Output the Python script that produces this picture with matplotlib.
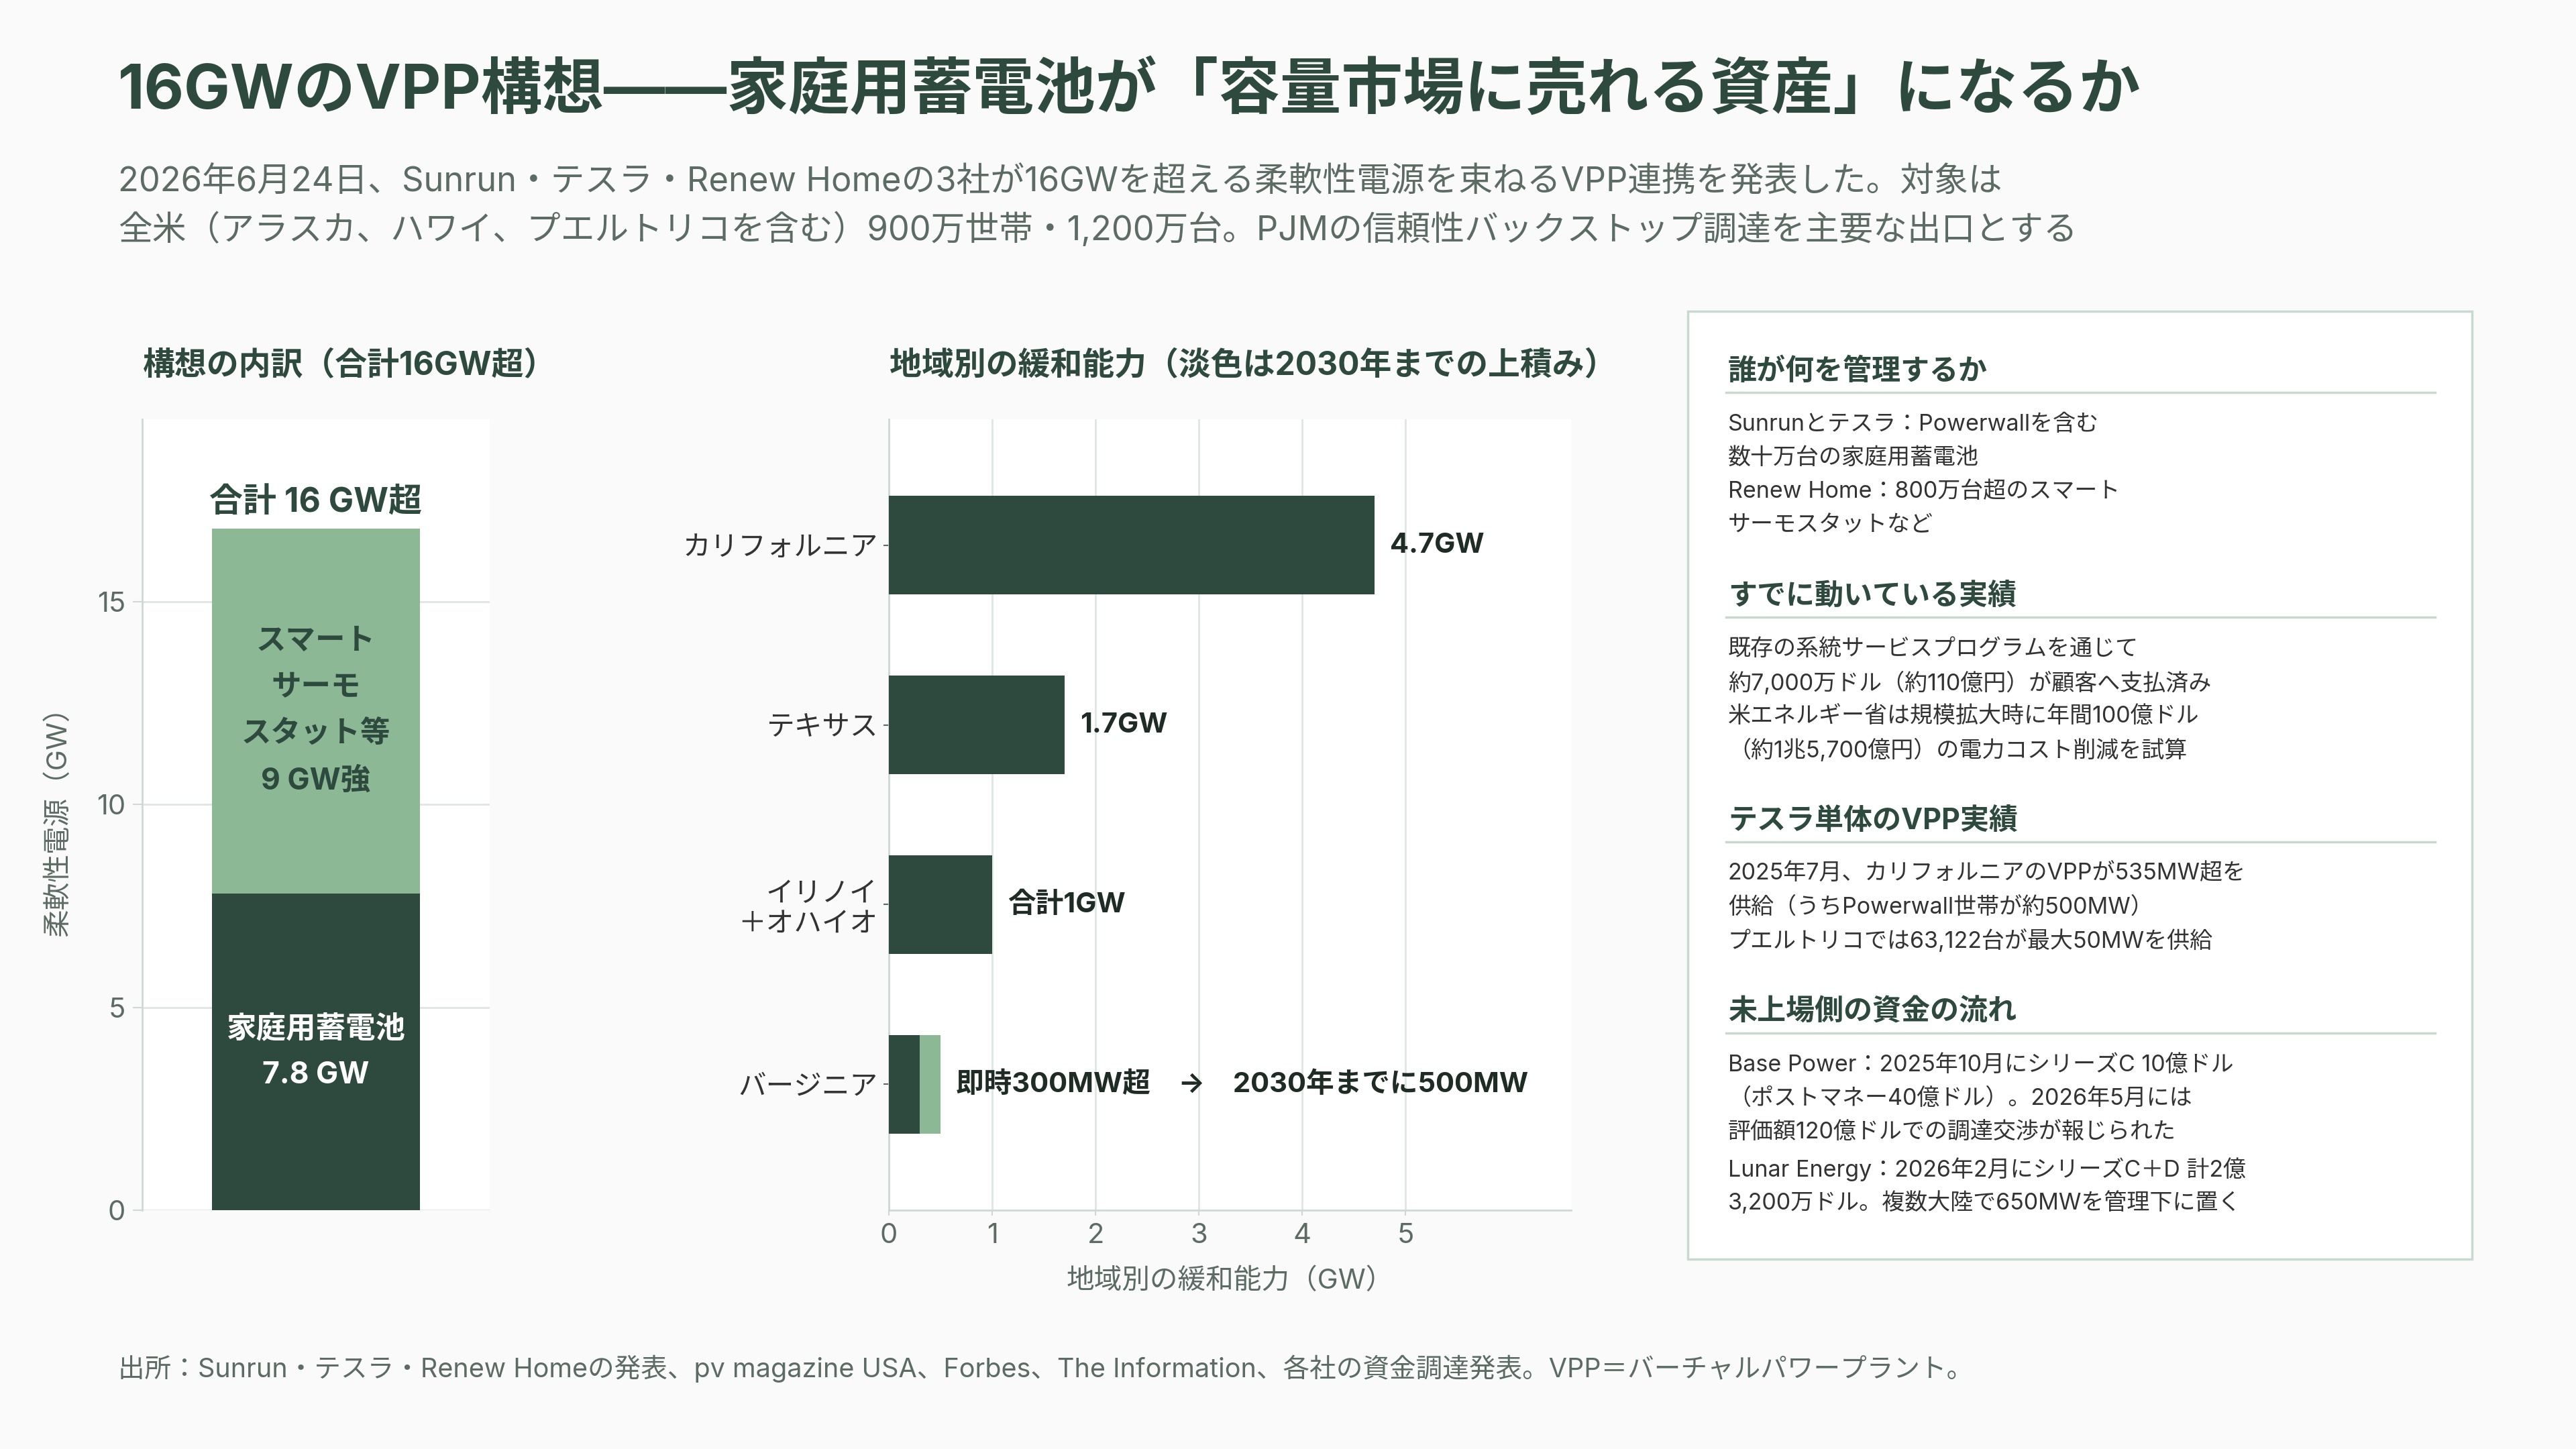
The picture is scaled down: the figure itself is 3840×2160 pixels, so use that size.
import matplotlib
matplotlib.use('Agg')
import matplotlib.pyplot as plt
from matplotlib.patches import Rectangle
from matplotlib.lines import Line2D

plt.rcParams['font.family'] = ['Inter', 'Noto Sans CJK JP', 'DejaVu Sans']

# ---------------- data ----------------
title = '16GWのVPP構想——家庭用蓄電池が「容量市場に売れる資産」になるか'
subtitle_lines = [
    '2026年6月24日、Sunrun・テスラ・Renew Homeの3社が16GWを超える柔軟性電源を束ねるVPP連携を発表した。対象は',
    '全米（アラスカ、ハワイ、プエルトリコを含む）900万世帯・1,200万台。PJMの信頼性バックストップ調達を主要な出口とする',
]
footer = '出所：Sunrun・テスラ・Renew Homeの発表、pv magazine USA、Forbes、The Information、各社の資金調達発表。VPP＝バーチャルパワープラント。'

left_title = '構想の内訳（合計16GW超）'
breakdown_labels = ['家庭用蓄電池\n7.8 GW', 'スマート\nサーモ\nスタット等\n9 GW強']
breakdown_values = [7.8, 9.0]
total_label = '合計 16 GW超'
left_ylabel = '柔軟性電源（GW）'
left_yticks = [0, 5, 10, 15]

mid_title = '地域別の緩和能力（淡色は2030年までの上積み）'
regions = ['カリフォルニア', 'テキサス', 'イリノイ\n＋オハイオ', 'バージニア']
current_gw = [4.7, 1.7, 1.0, 0.3]
addition_2030_gw = [0.0, 0.0, 0.0, 0.2]
value_labels = ['4.7GW', '1.7GW', '合計1GW', '即時300MW超　→　2030年までに500MW']
mid_xlabel = '地域別の緩和能力（GW）'
mid_xticks = [0, 1, 2, 3, 4, 5]

panel_sections = [
    ('誰が何を管理するか', [
        ['Sunrunとテスラ：Powerwallを含む', '数十万台の家庭用蓄電池',
         'Renew Home：800万台超のスマート', 'サーモスタットなど']]),
    ('すでに動いている実績', [
        ['既存の系統サービスプログラムを通じて', '約7,000万ドル（約110億円）が顧客へ支払済み',
         '米エネルギー省は規模拡大時に年間100億ドル', '（約1兆5,700億円）の電力コスト削減を試算']]),
    ('テスラ単体のVPP実績', [
        ['2025年7月、カリフォルニアのVPPが535MW超を', '供給（うちPowerwall世帯が約500MW）',
         'プエルトリコでは63,122台が最大50MWを供給']]),
    ('未上場側の資金の流れ', [
        ['Base Power：2025年10月にシリーズC 10億ドル', '（ポストマネー40億ドル）。2026年5月には',
         '評価額120億ドルでの調達交渉が報じられた'],
        ['Lunar Energy：2026年2月にシリーズC＋D 計2億', '3,200万ドル。複数大陸で650MWを管理下に置く']]),
]

# ---------------- style ----------------
DARK = '#2e4a3e'
LIGHT = '#8cb896'
GRAY = '#5c6b64'
TEXT = '#333333'
VAL = '#1f2b25'
GRID = '#dfe6e2'
SPINE = '#cfd9d3'
BG = '#fafafa'

W, H = 3840, 2160
fig = plt.figure(figsize=(38.4, 21.6), dpi=100, facecolor=BG)


def fx(px):
    return px / W


def fy(py):
    return 1 - py / H


# header
fig.text(fx(176), fy(136), title, fontsize=66, fontweight='bold', color=DARK,
         ha='left', va='center')
for i, line in enumerate(subtitle_lines):
    fig.text(fx(176), fy(272 + 70 * i), line, fontsize=36.5, color=GRAY,
             ha='left', va='center')
fig.text(fx(176), fy(2040), footer, fontsize=28.5, color=GRAY, ha='left', va='center')

# ---------------- left chart ----------------
ax1 = fig.add_axes([fx(212), fy(1804), (730 - 212) / W, (1804 - 625) / H])
ax1.set_facecolor('white')
bottom = 0
colors = [DARK, LIGHT]
txtcolors = ['white', DARK]
for v, c, lab, tc in zip(breakdown_values, colors, breakdown_labels, txtcolors):
    ax1.bar(0, v, bottom=bottom, width=0.6, color=c, zorder=3)
    ax1.text(0, bottom + v / 2, lab, ha='center', va='center', fontsize=32,
             fontweight='bold', color=tc, linespacing=1.82, zorder=4)
    bottom += v
ax1.text(0, bottom + 0.63, total_label, ha='center', va='center', fontsize=36,
         fontweight='bold', color=DARK, zorder=4)
ax1.set_xlim(-0.5, 0.5)
ax1.set_ylim(0, 19.5)
ax1.set_yticks(left_yticks)
ax1.set_xticks([])
ax1.grid(axis='y', color=GRID, linewidth=2, zorder=0)
for s in ['top', 'right', 'bottom']:
    ax1.spines[s].set_visible(False)
ax1.spines['left'].set_color(SPINE)
ax1.spines['left'].set_linewidth(2)
ax1.tick_params(axis='y', labelsize=30, labelcolor=GRAY, color=SPINE, length=10,
                width=1.5, pad=8)
ax1.text(-0.243, 0.5, left_ylabel, transform=ax1.transAxes, rotation=90,
         ha='center', va='center', fontsize=30, color=GRAY)
fig.text(fx(213), fy(546), left_title, fontsize=34.5, fontweight='bold', color=DARK,
         ha='left', va='center')

# ---------------- middle chart ----------------
ax2 = fig.add_axes([fx(1325), fy(1804), (2342 - 1325) / W, (1804 - 625) / H])
ax2.set_facecolor('white')
ypos = list(range(len(regions)))
ax2.barh(ypos, current_gw, height=0.55, color=DARK, zorder=3)
for y, c, a in zip(ypos, current_gw, addition_2030_gw):
    if a > 0:
        ax2.barh(y, a, left=c, height=0.55, color=LIGHT, zorder=3)
for y, c, a, lab in zip(ypos, current_gw, addition_2030_gw, value_labels):
    ax2.text(c + a + 0.15, y, lab, ha='left', va='center', fontsize=30,
             fontweight='bold', color=VAL, zorder=4)
ax2.set_yticks(ypos)
ax2.set_yticklabels(regions)
ax2.set_ylim(3.7, -0.7)
ax2.set_xlim(0, 6.6)
ax2.set_xticks(mid_xticks)
ax2.grid(axis='x', color=GRID, linewidth=2, zorder=0)
for s in ['top', 'right']:
    ax2.spines[s].set_visible(False)
for s in ['left', 'bottom']:
    ax2.spines[s].set_color(SPINE)
    ax2.spines[s].set_linewidth(2)
ax2.tick_params(axis='y', labelsize=30, labelcolor=TEXT, color=GRAY, length=6,
                width=1.5, pad=6)
ax2.tick_params(axis='x', labelsize=30, labelcolor=GRAY, color=SPINE, length=6,
                width=1.5, pad=8)
ax2.set_xlabel(mid_xlabel, fontsize=30, color=GRAY, labelpad=20)
fig.text(fx(1326), fy(546), mid_title, fontsize=34.5, fontweight='bold', color=DARK,
         ha='left', va='center')

# ---------------- right panel ----------------
fig.patches.append(Rectangle((fx(2516), fy(1877)), (3685 - 2516) / W, (1877 - 464) / H,
                             transform=fig.transFigure, facecolor='white',
                             edgecolor='#c8d9cf', linewidth=2.5, zorder=0))
y = 554
for head, paragraphs in panel_sections:
    fig.text(fx(2576), fy(y), head, fontsize=31, fontweight='bold', color=DARK,
             ha='left', va='center')
    fig.add_artist(Line2D([fx(2573), fx(3630)], [fy(y + 31), fy(y + 31)],
                          transform=fig.transFigure, color='#c8d9cf', linewidth=2.5))
    ly = y + 79
    for pi, para in enumerate(paragraphs):
        if pi > 0:
            ly += 5
        for line in para:
            fig.text(fx(2576), fy(ly), line, fontsize=24.5, color=TEXT,
                     ha='left', va='center')
            ly += 50
    y = ly - 50 + 106

fig.savefig('out.png', dpi=100, facecolor=BG)
